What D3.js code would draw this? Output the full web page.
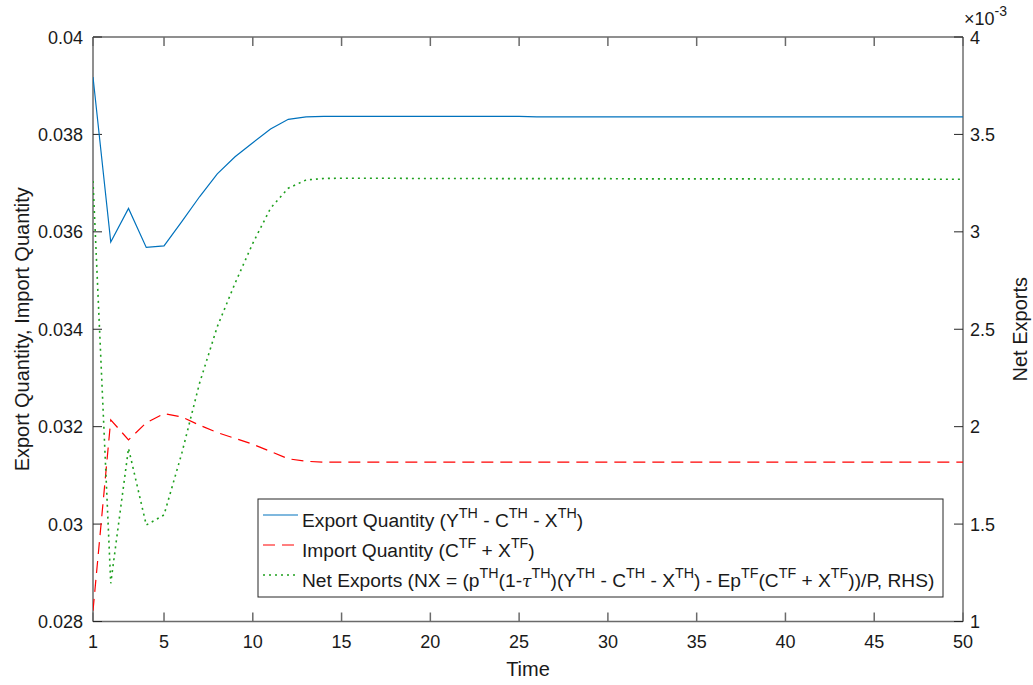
<!DOCTYPE html>
<html><head><meta charset="utf-8">
<script src="https://cdn.jsdelivr.net/npm/d3@7"></script>
<style>html,body{margin:0;padding:0;background:#fff;} svg{display:block;font-family:Arial,"Liberation Sans",sans-serif;}</style>
</head><body>
<svg id="c" width="1033" height="685"></svg>
<script>
const time = d3.range(1, 51);
const exportQty = [0.03918,0.03579,0.03648,0.03568,0.03571,0.03621,0.03672,0.03719,0.03754,0.03783,
  0.03811,0.03831,0.03836,0.03837,0.03837,0.03837,0.03837,0.03837,0.03837,0.03837,
  0.03837,0.03837,0.03837,0.03837,0.03837,0.03836,0.03836,0.03836,0.03836,0.03836,
  0.03836,0.03836,0.03836,0.03836,0.03836,0.03836,0.03836,0.03836,0.03836,0.03836,
  0.03836,0.03836,0.03836,0.03836,0.03836,0.03836,0.03836,0.03836,0.03836,0.03836];
const importQty = [0.02822,0.03214,0.03173,0.03208,0.03227,0.03220,0.03203,0.03188,0.03176,0.03164,
  0.03149,0.03134,0.03129,0.03127,0.03127,0.03127,0.03127,0.03127,0.03127,0.03127,
  0.03127,0.03127,0.03127,0.03127,0.03127,0.03127,0.03127,0.03127,0.03127,0.03127,
  0.03127,0.03127,0.03127,0.03127,0.03127,0.03127,0.03127,0.03127,0.03127,0.03127,
  0.03127,0.03127,0.03127,0.03127,0.03127,0.03127,0.03127,0.03127,0.03127,0.03127];
const netExports = [3.261,1.196,1.889,1.495,1.547,1.863,2.223,2.513,2.736,2.941,
  3.121,3.224,3.266,3.274,3.275,3.275,3.275,3.275,3.274,3.274,
  3.274,3.274,3.274,3.273,3.273,3.273,3.273,3.273,3.273,3.273,
  3.272,3.272,3.272,3.272,3.272,3.272,3.272,3.272,3.271,3.271,
  3.271,3.271,3.271,3.271,3.271,3.271,3.271,3.270,3.270,3.270]; // x 10^-3
const xTicks = [1,5,10,15,20,25,30,35,40,45,50];
const yLeftTicks = [0.028,0.030,0.032,0.034,0.036,0.038,0.040];
const yLeftLabels = ["0.028","0.03","0.032","0.034","0.036","0.038","0.04"];
const yRightTicks = [1,1.5,2,2.5,3,3.5,4];
const yRightLabels = ["1","1.5","2","2.5","3","3.5","4"];
const legendItems = [
  [["Export Quantity (Y",0],["TH",1],[" - C",0],["TH",1],[" - X",0],["TH",1],[")",0]],
  [["Import Quantity (C",0],["TF",1],[" + X",0],["TF",1],[")",0]],
  [["Net Exports (NX = (p",0],["TH",1],["(1-",0],["τ",2],["TH",1],[")(Y",0],["TH",1],[" - C",0],["TH",1],[" - X",0],["TH",1],[") - Ep",0],["TF",1],["(C",0],["TF",1],[" + X",0],["TF",1],["))/P, RHS)",0]]
];
const colors = ["#0072BD","#FF0000","#1EA01E"];
const dashes = [null,"12,7","2,4"];

const svg = d3.select("#c");
const L = 93, R = 963, T = 37, B = 621.5;
const x = d3.scaleLinear().domain([1,50]).range([L,R]);
const yL = d3.scaleLinear().domain([0.028,0.04]).range([B,T]);
const yR = d3.scaleLinear().domain([1,4]).range([B,T]);
const tickLen = 9;
const ax = svg.append("g");
ax.append("line").attr("x1",L).attr("x2",R).attr("y1",T).attr("y2",T).attr("stroke","#6a6a6a").attr("stroke-width",1.5);
ax.append("line").attr("x1",L).attr("x2",R).attr("y1",B).attr("y2",B).attr("stroke","#6a6a6a").attr("stroke-width",1.5);
ax.append("line").attr("x1",L).attr("x2",L).attr("y1",T).attr("y2",B).attr("stroke","#6a6a6a").attr("stroke-width",1.5);
ax.append("line").attr("x1",R).attr("x2",R).attr("y1",T).attr("y2",B).attr("stroke","#262626").attr("stroke-width",1);
xTicks.forEach(t=>{
  ax.append("line").attr("x1",x(t)).attr("x2",x(t)).attr("y1",B).attr("y2",B-tickLen).attr("stroke","#6a6a6a").attr("stroke-width",1.5);
  ax.append("line").attr("x1",x(t)).attr("x2",x(t)).attr("y1",T).attr("y2",T+tickLen).attr("stroke","#6a6a6a").attr("stroke-width",1.5);
  ax.append("text").attr("x",x(t)).attr("y",648).attr("text-anchor","middle").attr("font-size",18).attr("fill","#1a1a1a").text(t);
});
yLeftTicks.forEach((t,i)=>{
  ax.append("line").attr("x1",L).attr("x2",L+tickLen).attr("y1",yL(t)).attr("y2",yL(t)).attr("stroke","#262626").attr("stroke-width",1);
  ax.append("text").attr("x",83).attr("y",yL(t)+6.5).attr("text-anchor","end").attr("font-size",18).attr("fill","#1a1a1a").text(yLeftLabels[i]);
});
yRightTicks.forEach((t,i)=>{
  ax.append("line").attr("x1",R).attr("x2",R-tickLen).attr("y1",yR(t)).attr("y2",yR(t)).attr("stroke","#262626").attr("stroke-width",1);
  ax.append("text").attr("x",970).attr("y",yR(t)+6.5).attr("text-anchor","start").attr("font-size",18).attr("fill","#1a1a1a").text(yRightLabels[i]);
});
const ex = ax.append("text").attr("x",964).attr("y",25).attr("font-size",18).attr("fill","#1a1a1a");
ex.append("tspan").text("×10");
ex.append("tspan").attr("font-size",14).attr("dy",-9).text("-3");
ax.append("text").attr("x",(L+R)/2).attr("y",676).attr("text-anchor","middle").attr("font-size",20).attr("fill","#1a1a1a").text("Time");
ax.append("text").attr("transform",`translate(29,${(T+B)/2}) rotate(-90)`).attr("text-anchor","middle").attr("font-size",20).attr("fill","#1a1a1a").text("Export Quantity, Import Quantity");
ax.append("text").attr("transform",`translate(1027,${(T+B)/2}) rotate(-90)`).attr("text-anchor","middle").attr("font-size",20).attr("fill","#1a1a1a").text("Net Exports");

svg.append("clipPath").attr("id","pc").append("rect").attr("x",L).attr("y",T).attr("width",R-L).attr("height",B-T);
const g = svg.append("g").attr("clip-path","url(#pc)");
const lineL = d3.line().x((d,i)=>x(time[i])).y(d=>yL(d));
const lineR = d3.line().x((d,i)=>x(time[i])).y(d=>yR(d));
g.append("path").datum(exportQty).attr("d",lineL).attr("fill","none").attr("stroke",colors[0]).attr("stroke-width",1.2);
g.append("path").datum(importQty).attr("d",lineL).attr("fill","none").attr("stroke",colors[1]).attr("stroke-width",1.2).attr("stroke-dasharray",dashes[1]);
g.append("path").datum(netExports).attr("d",lineR).attr("fill","none").attr("stroke",colors[2]).attr("stroke-width",1.6).attr("stroke-dasharray",dashes[2]);

const lg = svg.append("g");
const box = lg.append("rect").attr("fill","#fff").attr("stroke","#262626").attr("stroke-width",1);
const rowsY = [527,557,587];
let maxRight = 0;
legendItems.forEach((segs,i)=>{
  const ly = rowsY[i]-12;
  lg.append("line").attr("x1",263).attr("x2",298).attr("y1",ly).attr("y2",ly).attr("stroke",colors[i]).attr("stroke-width",i==2?1.6:1.2).attr("stroke-dasharray",dashes[i]);
  const t = lg.append("text").attr("x",302).attr("y",rowsY[i]).attr("font-size",19.2).attr("fill","#1a1a1a");
  let sup = false;
  segs.forEach(([s,k])=>{
    const ts = t.append("tspan").text(s);
    if(k===1){ ts.attr("font-size",14.3); if(!sup){ts.attr("dy",-9); sup=true;} }
    else {
      if(sup){ts.attr("dy",9); sup=false;}
      if(k===2){ ts.attr("font-style","italic").attr("font-family","'DejaVu Serif',serif").attr("font-size",17); }
    }
  });
  const bb = t.node().getBBox();
  maxRight = Math.max(maxRight, bb.x + bb.width);
});
box.attr("x",258).attr("y",499).attr("width",Math.max(maxRight+4,943)-258).attr("height",98);
</script>
</body></html>
